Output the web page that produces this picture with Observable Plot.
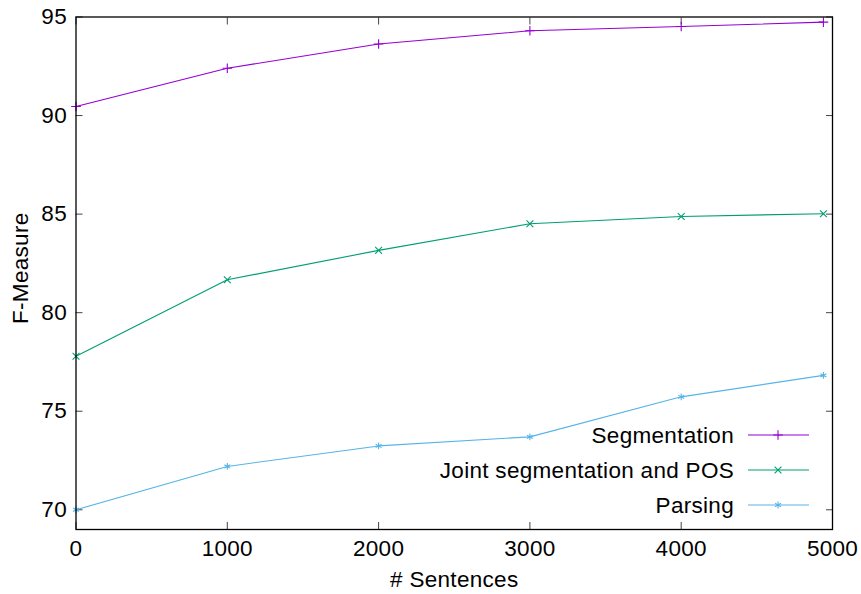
<!DOCTYPE html>
<html><head><meta charset="utf-8">
<script src="https://cdn.jsdelivr.net/npm/d3@7"></script>
<script src="https://cdn.jsdelivr.net/npm/@observablehq/plot@0.6"></script>
<style>body{margin:0;background:#fff;} svg{display:block;}</style>
</head><body><div id="chart"></div>
<script>
const sentences = [0, 1000, 2000, 3000, 4000, 4940];
const segmentation = [90.46, 92.4, 93.63, 94.3, 94.52, 94.74];
const jointPOS = [77.79, 81.67, 83.16, 84.51, 84.88, 85.02];
const parsing = [70.0, 72.2, 73.24, 73.7, 75.73, 76.82];
const seriesNames = ["Segmentation", "Joint segmentation and POS", "Parsing"];
const seriesColors = ["#9400d3", "#009e73", "#56b4e9"];
const seriesSymbols = ["plus", "times", "asterisk"];
const xTicks = [0, 1000, 2000, 3000, 4000, 5000];
const yTicks = [70, 75, 80, 85, 90, 95];

const seriesValues = [segmentation, jointPOS, parsing];
const rows = seriesValues.flatMap((vals, s) => vals.map((v, i) => ({x: sentences[i], y: v, s: seriesNames[s]})));

const font = "'Liberation Sans', Arial, Helvetica, sans-serif";
const FS = 22.5;
const LS = "0.3px";
const W = 861, H = 594, mL = 75.5, mR = 29, mT = 16.5, mB = 65;

const marks = [];
seriesNames.forEach((name, i) => {
  const d = rows.filter(r => r.s === name);
  marks.push(Plot.line(d, {x: "x", y: "y", stroke: seriesColors[i], strokeWidth: 1.1}));
  marks.push(Plot.dot(d, {x: "x", y: "y", symbol: seriesSymbols[i], stroke: seriesColors[i], r: 3.2, strokeWidth: 1.1}));
});

const plot = Plot.plot({
  width: W, height: H,
  marginLeft: mL, marginRight: mR, marginTop: mT, marginBottom: mB,
  style: {fontFamily: font, fontSize: FS + "px", color: "black", background: "white", letterSpacing: LS},
  x: {domain: [0, 5000]},
  y: {domain: [69, 95]},
  marks: [
    Plot.axisX({anchor: "bottom", ticks: xTicks, tickSize: -7, tickPadding: 18, tickFormat: d3.format("d"), label: null, stroke: "#444", fontSize: FS}),
    Plot.axisX({anchor: "top", ticks: xTicks, tickSize: -7, tickFormat: () => "", label: null, stroke: "#444"}),
    Plot.axisY({anchor: "left", ticks: yTicks, tickSize: -7, tickPadding: 16, tickFormat: d3.format("d"), label: null, stroke: "#444", fontSize: FS}),
    Plot.axisY({anchor: "right", ticks: yTicks, tickSize: -7, tickFormat: () => "", label: null, stroke: "#444"}),
    ...marks,
    Plot.frame({stroke: "black", strokeWidth: 1.3}),
    Plot.text(["F-Measure"], {frameAnchor: "left", rotate: -90, textAnchor: "middle", lineAnchor: "middle", dx: -55, dy: -5, fontSize: FS, fill: "black"}),
    Plot.text(["# Sentences"], {frameAnchor: "bottom", lineAnchor: "middle", dy: 50, fontSize: FS, fill: "black"})
  ]
});
document.getElementById("chart").appendChild(plot);

// legend (inside plot, bottom right)
const svg = d3.select(plot);
const right = W - mR, bottom = H - mB;
const legendYs = [435, 470, 505].map(y => y - bottom);
seriesNames.forEach((name, i) => {
  const y = bottom + legendYs[i];
  const g = svg.append("g");
  g.append("text").attr("x", right - 98).attr("y", y).attr("dy", "0.35em")
    .attr("text-anchor", "end").attr("font-family", font).attr("font-size", FS)
    .attr("letter-spacing", LS).attr("fill", "black").text(name);
  g.append("line").attr("x1", right - 84).attr("x2", right - 23).attr("y1", y).attr("y2", y)
    .attr("stroke", seriesColors[i]).attr("stroke-width", 1.1);
  const sym = {plus: d3.symbolPlus, times: d3.symbolTimes, asterisk: d3.symbolAsterisk}[seriesSymbols[i]];
  g.append("path").attr("d", d3.symbol(sym, Math.PI * 3.2 * 3.2)())
    .attr("transform", `translate(${right - 54},${y})`)
    .attr("fill", "none").attr("stroke", seriesColors[i]).attr("stroke-width", 1.1);
});
</script></body></html>
